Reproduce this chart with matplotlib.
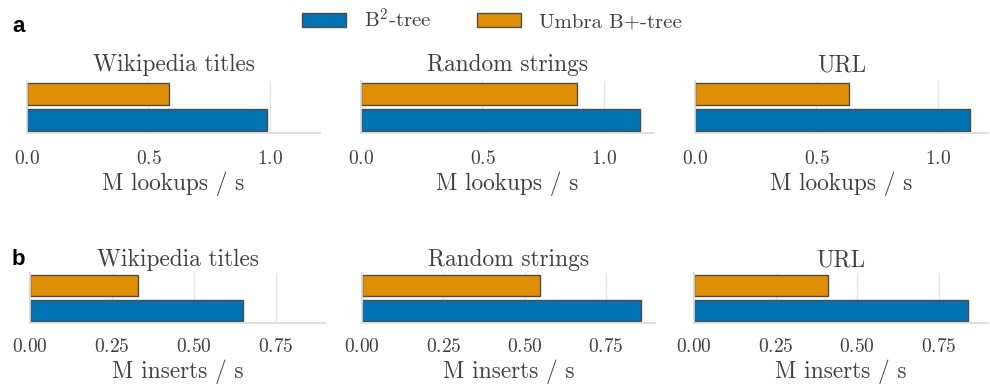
import matplotlib
matplotlib.use("Agg")
import matplotlib.pyplot as plt
from matplotlib.ticker import MultipleLocator
from matplotlib.patches import Patch
import seaborn as sns

# data
datasets = ["Wikipedia titles", "Random strings", "URL"]
systems = ["B$^2$-tree", "Umbra B+-tree"]
lookups_b2 = [0.988, 1.149, 1.133]
lookups_umbra = [0.583, 0.888, 0.633]
inserts_b2 = [0.650, 0.857, 0.840]
inserts_umbra = [0.330, 0.548, 0.409]

sns.set_theme(style="whitegrid")
plt.rcParams["font.family"] = ["cmr10"]
plt.rcParams["mathtext.fontset"] = "cm"
plt.rcParams["axes.formatter.use_mathtext"] = True

colors = sns.color_palette("colorblind")[:2]
text_col = "0.25"

fig = plt.figure(figsize=(9.9, 3.85), dpi=100)
W, H = 990.0, 385.0

# axes boxes in pixels: (left, top, width, height)
row_a = [(27, 81, 293, 52), (361, 81, 293, 52), (695, 81, 293, 52)]
row_b = [(30, 273, 295, 50), (362, 273, 293, 50), (694, 273, 294, 50)]

rows = [
    (row_a, lookups_b2, lookups_umbra, "M lookups / s", 0.5, 1.206, 12.5, 7),
    (row_b, inserts_b2, inserts_umbra, "M inserts / s", 0.25, 0.90, 11, 5),
]

for boxes, b2, umbra, xlabel, step, xmax, tpad, ttl_pad in rows:
    for i, (l, t, w, h) in enumerate(boxes):
        ax = fig.add_axes([l / W, 1 - (t + h) / H, w / W, h / H])
        ax.barh(0, b2[i], height=0.85, color=colors[0], edgecolor="0.3", linewidth=1)
        ax.barh(1, umbra[i], height=0.85, color=colors[1], edgecolor="0.3", linewidth=1)
        ax.set_ylim(-0.5, 1.5)
        ax.set_xlim(0, xmax)
        ax.set_yticks([])
        ax.xaxis.set_major_locator(MultipleLocator(step))
        ax.grid(axis="x", color="0.9", linewidth=1)
        ax.grid(axis="y", visible=False)
        for s in ["top", "right"]:
            ax.spines[s].set_visible(False)
        for s in ["left", "bottom"]:
            ax.spines[s].set_color("0.85")
        ax.tick_params(axis="x", labelsize=14, colors=text_col, pad=tpad, length=0)
        ax.set_xlabel(xlabel, fontsize=16.8, color=text_col, labelpad=2)
        ax.set_title(datasets[i], fontsize=16.8, color=text_col, pad=ttl_pad)

fig.text(12 / W, 1 - 32 / H, "a", fontsize=16, fontweight="bold",
         family="Liberation Sans", va="baseline", color="black")
fig.text(12 / W, 1 - 265 / H, "b", fontsize=16, fontweight="bold",
         family="Liberation Sans", va="baseline", color="black")

handles = [Patch(facecolor=colors[0], edgecolor="0.3", label=systems[0]),
           Patch(facecolor=colors[1], edgecolor="0.3", label=systems[1])]
leg = fig.legend(handles=handles, loc="upper center", bbox_to_anchor=(0.497, 1.03),
                 ncol=2, frameon=False, fontsize=15, handlelength=2.1,
                 handleheight=0.7, handletextpad=0.85, columnspacing=2.2)
for t in leg.get_texts():
    t.set_color(text_col)

fig.savefig("out.png", dpi=100)
